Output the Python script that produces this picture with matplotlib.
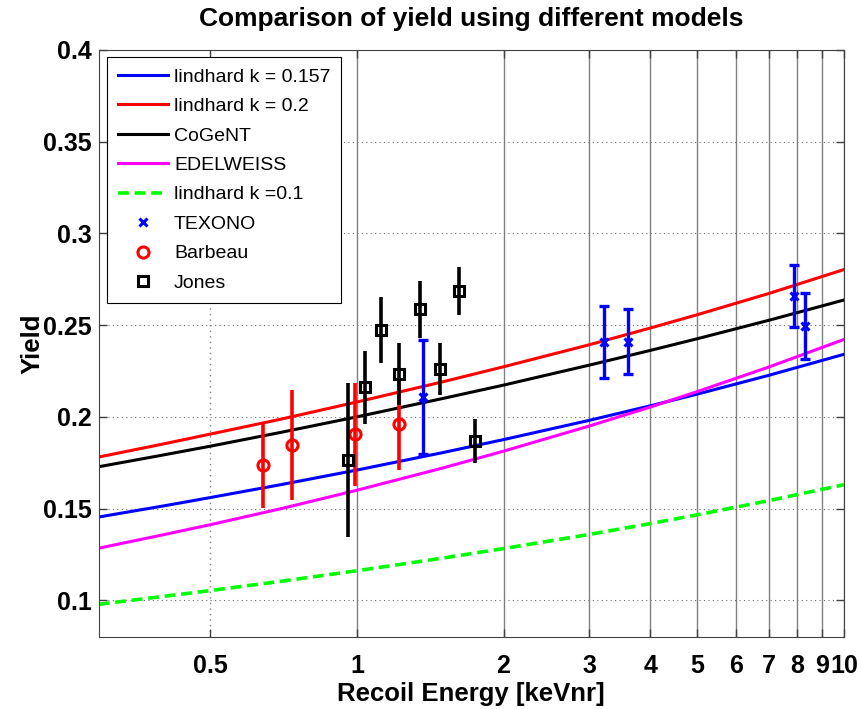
import matplotlib
matplotlib.use('Agg')
from matplotlib import pyplot as plt

plt.rcParams['font.family'] = ['Liberation Sans', 'DejaVu Sans']

# model curves, values
energy = [0.295, 0.4, 0.5, 0.7, 1, 1.5, 2, 3, 4, 5, 7, 10]
lindhard_157 = [0.1454, 0.1514, 0.1560, 0.1631, 0.1710, 0.1805, 0.1876, 0.1981, 0.2060, 0.2124, 0.2226, 0.2341]
lindhard_2 = [0.1781, 0.1852, 0.1906, 0.1988, 0.2081, 0.2191, 0.2273, 0.2393, 0.2484, 0.2557, 0.2672, 0.2803]
cogent = [0.1728, 0.1792, 0.1840, 0.1916, 0.2000, 0.2100, 0.2173, 0.2282, 0.2362, 0.2426, 0.2526, 0.2637]
edelweiss = [0.1284, 0.1357, 0.1412, 0.1500, 0.1600, 0.1721, 0.1813, 0.1950, 0.2053, 0.2138, 0.2271, 0.2422]
lindhard_1 = [0.0978, 0.1021, 0.1053, 0.1104, 0.1161, 0.1230, 0.1282, 0.1359, 0.1418, 0.1466, 0.1543, 0.1630]

# measurements
texono_e = [1.364, 3.21, 3.61, 7.91, 8.31]
texono_y = [0.2109, 0.2409, 0.2409, 0.2658, 0.2495]
texono_err = [0.031, 0.0198, 0.0178, 0.017, 0.0178]

barbeau_e = [0.641, 0.735, 0.991, 1.222]
barbeau_y = [0.1736, 0.1847, 0.1904, 0.1960]
barbeau_err = [0.0232, 0.030, 0.028, 0.025]

jones_e = [0.960, 1.038, 1.120, 1.222, 1.347, 1.483, 1.623, 1.750]
jones_y = [0.1764, 0.2160, 0.2473, 0.2235, 0.2587, 0.2260, 0.2687, 0.1867]
jones_err = [0.042, 0.020, 0.018, 0.017, 0.0155, 0.0143, 0.013, 0.012]

xticks = [0.5, 1, 2, 3, 4, 5, 6, 7, 8, 9, 10]
xticklabels = ['0.5', '1', '2', '3', '4', '5', '6', '7', '8', '9', '10']
yticks = [0.1, 0.15, 0.2, 0.25, 0.3, 0.35, 0.4]
yticklabels = ['0.1', '0.15', '0.2', '0.25', '0.3', '0.35', '0.4']

fig = plt.figure(figsize=(8.62, 7.09), dpi=100)
ax = fig.add_axes([0.1145, 0.1016, 0.8646, 0.8279])

lw = 2.2
ax.plot(energy, lindhard_157, color='#0000ff', lw=lw, label='lindhard k = 0.157')
ax.plot(energy, lindhard_2, color='#ff0000', lw=lw, label='lindhard k = 0.2')
ax.plot(energy, cogent, color='black', lw=lw, label='CoGeNT')
ax.plot(energy, edelweiss, color='#ff00ff', lw=lw, label='EDELWEISS')
ax.plot(energy, lindhard_1, color='#00ff00', lw=2.6, ls=(0, (3, 1.6)), label='lindhard k =0.1')

ax.errorbar(texono_e, texono_y, yerr=texono_err, fmt='none', ecolor='#0000ff',
            elinewidth=2.4, capsize=3.5, capthick=2.4)
ax.plot(texono_e, texono_y, 'x', color='#0000ff', ms=6, mew=2.2, label='TEXONO')

ax.errorbar(barbeau_e, barbeau_y, yerr=barbeau_err, fmt='none', ecolor='#ff0000', elinewidth=2.6)
ax.plot(barbeau_e, barbeau_y, 'o', color='#ff0000', mfc='none', ms=8, mew=2.2, label='Barbeau')

ax.errorbar(jones_e, jones_y, yerr=jones_err, fmt='none', ecolor='black', elinewidth=2.6)
ax.plot(jones_e, jones_y, 's', color='black', mfc='none', ms=7, mew=2.2, label='Jones')

ax.set_xscale('log')
ax.set_xlim(0.295, 10)
ax.set_ylim(0.08, 0.4)
ax.set_xticks(xticks)
ax.set_xticklabels(xticklabels)
ax.xaxis.set_minor_locator(matplotlib.ticker.NullLocator())
ax.set_yticks(yticks)
ax.set_yticklabels(yticklabels)

ax.tick_params(direction='in', length=6, width=1, top=True, right=True,
               labelsize=18, color='#404040')
ax.tick_params(axis='x', pad=12)
ax.tick_params(axis='y', pad=5)
for lab in ax.get_xticklabels() + ax.get_yticklabels():
    lab.set_fontweight('bold')

ax.grid(True, axis='y', ls=(0, (1, 3)), color='#707070', lw=0.8)
ax.grid(True, axis='x', ls='-', color='#808080', lw=1)
ax.get_xgridlines()[0].set_linestyle((0, (1, 3)))
ax.set_axisbelow(True)
for s in ax.spines.values():
    s.set_color('#404040')

ax.set_xlabel('Recoil Energy [keVnr]', fontsize=18.5, fontweight='bold', labelpad=3)
ax.set_ylabel('Yield', fontsize=18.5, fontweight='bold')
ax.yaxis.set_label_coords(-0.072, 0.5)
ax.set_title('Comparison of yield using different models', fontsize=19, fontweight='bold', pad=17)

leg = ax.legend(loc='upper left', bbox_to_anchor=(0.0109, 0.9876), borderaxespad=0,
                fontsize=14, fancybox=False, framealpha=1, edgecolor='black',
                handlelength=2.6, handletextpad=0.3, labelspacing=0.61, numpoints=1,
                borderpad=0.55)
leg.get_frame().set_linewidth(0.8)

plt.savefig('out.png', dpi=100)
